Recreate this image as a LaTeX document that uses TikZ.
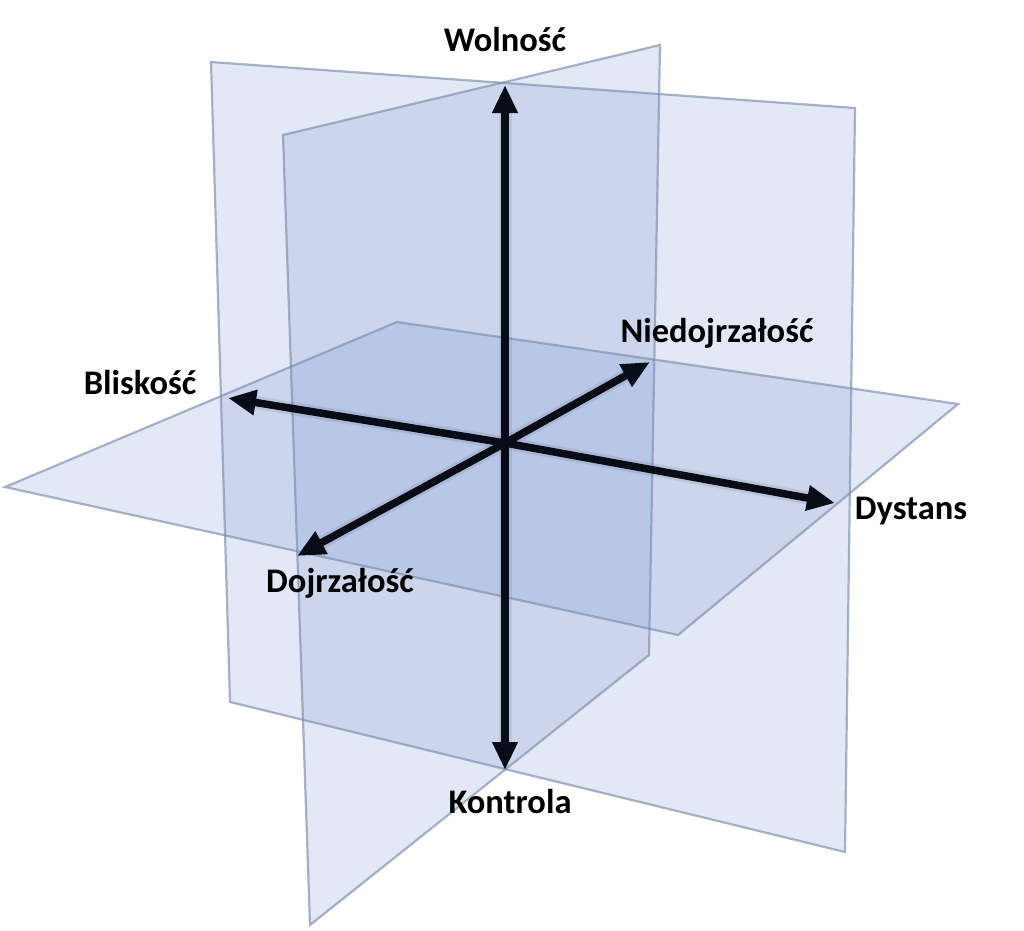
\documentclass[tikz,border=0pt]{standalone}
\usepackage{fontspec}
\setmainfont{Carlito}
\usetikzlibrary{arrows.meta}
\definecolor{planefill}{RGB}{110,140,205}
\definecolor{planeedge}{RGB}{125,140,170}
\definecolor{axiscol}{RGB}{8,12,22}
\tikzset{
  plane/.style={fill=planefill, fill opacity=0.2, draw=planeedge, draw opacity=0.65, line width=2.2pt, line join=miter},
  axis/.style={draw=axiscol, line width=7.5pt, -{Triangle[length=28pt,width=24pt]}},
  axshadow/.style={draw=black, line width=13pt, opacity=0.08},
  lbl/.style={font=\fontsize{34.5}{40}\selectfont\bfseries, text=black, inner sep=0pt}
}
\begin{document}
\begin{tikzpicture}[x=1pt,y=-1pt]
\useasboundingbox (0,0) rectangle (1024,930);
% planes
\path[plane] (211,62) -- (855,108) -- (845,852) -- (230,702) -- cycle;
\path[plane] (283,135) -- (660,45) -- (649,655) -- (310,925) -- cycle;
\path[plane] (397,322) -- (958,404) -- (678,635) -- (5,487) -- cycle;
% axis end points
\coordinate (O) at (505,443);
\coordinate (Wt) at (505,85);
\coordinate (Kt) at (505,770);
\coordinate (Bt) at (228,398);
\coordinate (Dt) at (835,503);
\coordinate (Nt) at (650,362);
\coordinate (Jt) at (297,556);
% shadows
\foreach \t in {Wt,Kt,Bt,Dt,Nt,Jt} \draw[axshadow, shorten >=14pt] (O) -- (\t);
% axes
\draw[axis] (O) -- (Wt);
\draw[axis] (O) -- (Kt);
\draw[axis] (O) -- (Bt);
\draw[axis] (O) -- (Dt);
\draw[axis] (O) -- (Nt);
\draw[axis] (O) -- (Jt);
% labels
\node[lbl] (W) at (505,40) {Wolność};
\node[lbl] (K) at (510,802) {Kontrola};
\node[lbl] (B) at (140,383) {Bliskość};
\node[lbl] (D) at (911,511) {Dystans};
\node[lbl] (N) at (717,333) {Niedojrzałość};
\node[lbl] (J) at (340,583) {Dojrzałość};
\end{tikzpicture}
\end{document}
